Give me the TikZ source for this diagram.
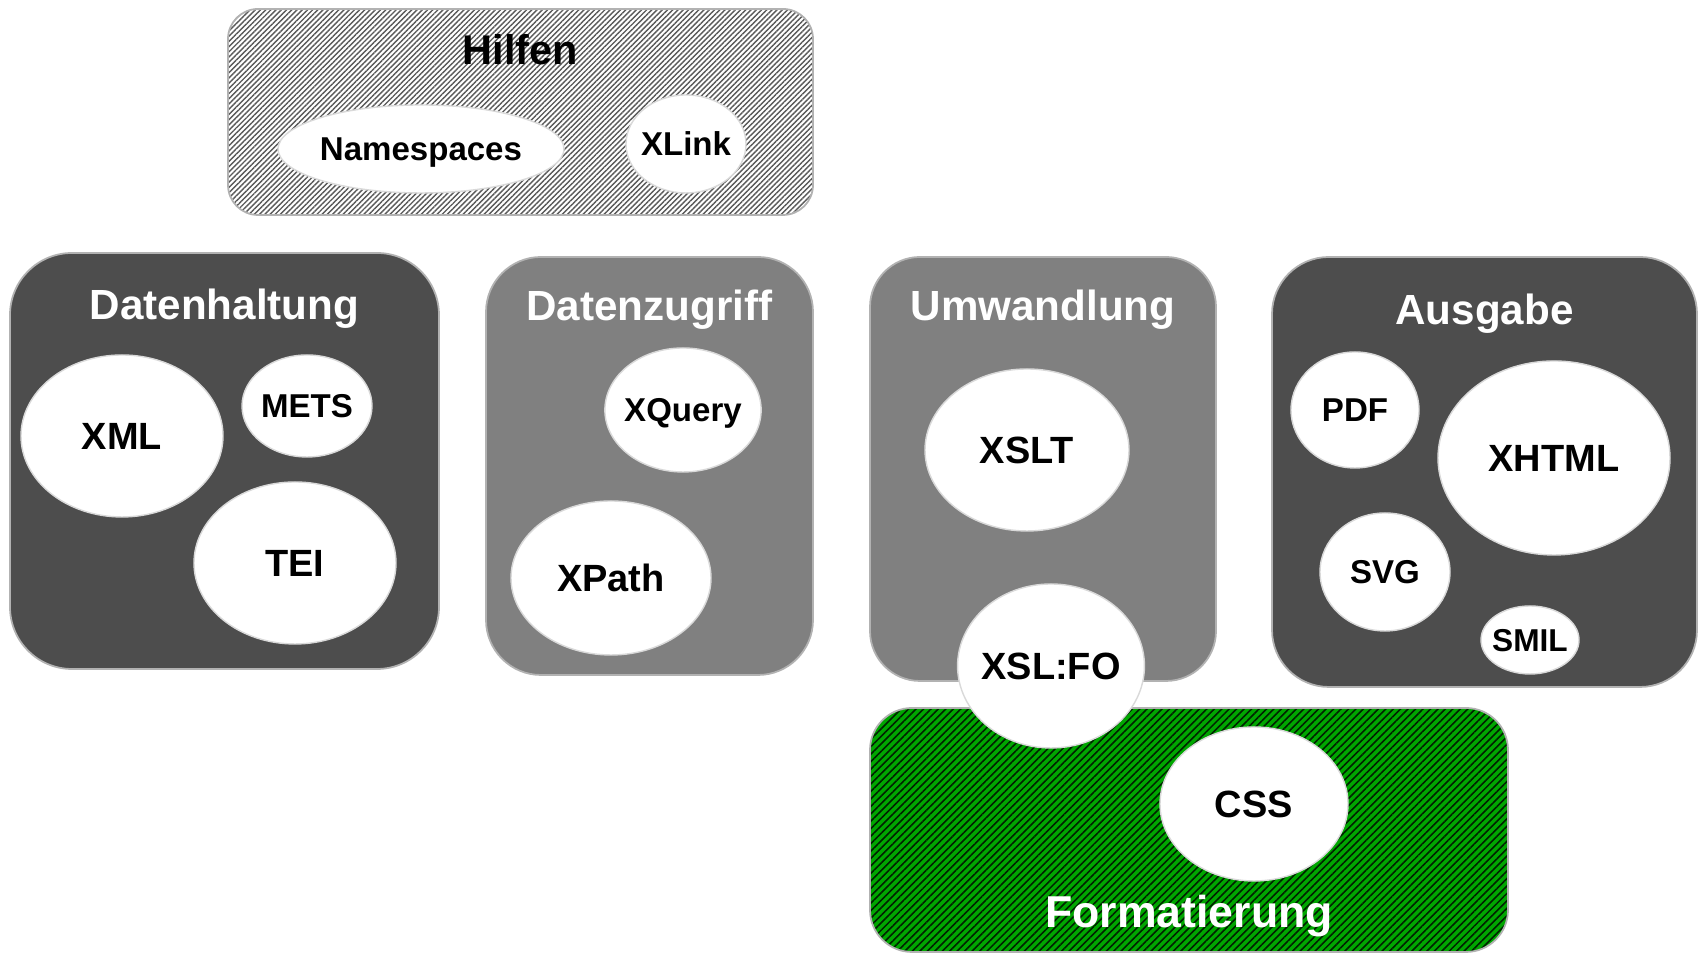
\documentclass[tikz,border=0pt]{standalone}
\usepackage{fontspec}
\setmainfont{Liberation Sans}
\usetikzlibrary{shapes.geometric,patterns.meta,positioning}

\definecolor{darkbox}{HTML}{4D4D4D}
\definecolor{midbox}{HTML}{808080}
\definecolor{formgreen}{HTML}{00A600}

\begin{document}
\begin{tikzpicture}[
  group/.style={rectangle, draw=gray!60, line width=0.5pt, rounded corners=0.55cm, inner sep=0pt},
  grouptitle/.style={anchor=base, inner sep=0pt, text=white, font=\fontsize{12}{14}\selectfont\bfseries},
  item/.style={ellipse, draw=gray!30, line width=0.4pt, fill=white, inner sep=-1pt, text depth=0pt, font=\fontsize{10.8}{13}\selectfont\bfseries},
  smallitem/.style={item, font=\fontsize{9.4}{11}\selectfont\bfseries}
]
  \useasboundingbox (0,0) rectangle (17,9.54);

  % Hilfen: hatched box on top
  \node[group, rounded corners=0.3cm, minimum width=5.85cm, minimum height=2.06cm, preaction={fill=white},
        pattern={Lines[angle=45,distance=1.05pt,line width=0.4pt]}, pattern color=gray!70!black] (hilf) at (5.205,8.42) {};
  \node[grouptitle, text=black, font=\fontsize{11.8}{14}\selectfont\bfseries] (hilft) at ([yshift=-0.56cm]hilf.north) {Hilfen};
  \node[smallitem, minimum width=2.86cm, minimum height=0.88cm] (ns) at (4.21,8.05) {Namespaces};
  \node[smallitem, minimum width=1.20cm, minimum height=0.98cm] (xlink) at (6.86,8.10) {XLink};

  % Row of four groups
  \node[group, fill=darkbox, rounded corners=0.62cm, minimum width=4.29cm, minimum height=4.16cm] (dh) at (2.245,4.93) {};
  \node[grouptitle] (dht) at ([yshift=-0.67cm]dh.north) {Datenhaltung};
  \node[item, minimum width=2.02cm, minimum height=1.62cm] (xml) at (1.22,5.18) {XML};
  \node[smallitem, minimum width=1.30cm, minimum height=1.02cm] (mets) at (3.07,5.48) {METS};
  \node[item, minimum width=2.02cm, minimum height=1.62cm] (tei) at (2.95,3.91) {TEI};

  \node[group, fill=midbox, minimum width=3.27cm, minimum height=4.18cm] (dz) at (6.495,4.88) {};
  \node[grouptitle] (dzt) at ([yshift=-0.64cm]dz.north) {Datenzugriff};
  \node[smallitem, minimum width=1.52cm, minimum height=1.24cm] (xquery) at (6.83,5.44) {XQuery};
  \node[item, minimum width=2.00cm, minimum height=1.54cm] (xpath) at (6.11,3.76) {XPath};

  \node[group, fill=midbox, rounded corners=0.5cm, minimum width=3.46cm, minimum height=4.24cm] (uw) at (10.43,4.85) {};
  \node[grouptitle] (uwt) at ([yshift=-0.64cm]uw.north) {Umwandlung};
  \node[item, minimum width=2.04cm, minimum height=1.62cm] (xslt) at (10.27,5.04) {XSLT};

  \node[group, fill=darkbox, rounded corners=0.57cm, minimum width=4.25cm, minimum height=4.30cm] (aus) at (14.845,4.82) {};
  \node[grouptitle] (aust) at ([yshift=-0.68cm]aus.north) {Ausgabe};
  \node[smallitem, minimum width=1.28cm, minimum height=1.16cm] (pdf) at (13.55,5.44) {PDF};
  \node[item, minimum width=2.32cm, minimum height=1.94cm] (xhtml) at (15.54,4.96) {XHTML};
  \node[smallitem, minimum width=1.30cm, minimum height=1.18cm] (svg) at (13.85,3.82) {SVG};
  \node[smallitem, font=\fontsize{9}{11}\selectfont\bfseries, minimum width=0.98cm, minimum height=0.68cm] (smil) at (15.30,3.14) {SMIL};

  % Formatierung: green hatched box, XSL:FO sits across both
  \node[group, rounded corners=0.42cm, minimum width=6.38cm, minimum height=2.44cm, preaction={fill=formgreen},
        pattern={Lines[angle=45,distance=1.5pt,line width=0.45pt]}, pattern color=black!80!formgreen] (form) at (11.89,1.24) {};
  \node[grouptitle, font=\fontsize{12.7}{15}\selectfont\bfseries] (formt) at ([yshift=0.25cm]form.south) {Formatierung};
  \node[item, minimum width=1.88cm, minimum height=1.54cm] (css) at (12.54,1.50) {CSS};
  \node[item, minimum width=1.80cm, minimum height=1.64cm] (xslfo) at (10.51,2.88) {XSL:FO};
\end{tikzpicture}
\end{document}
